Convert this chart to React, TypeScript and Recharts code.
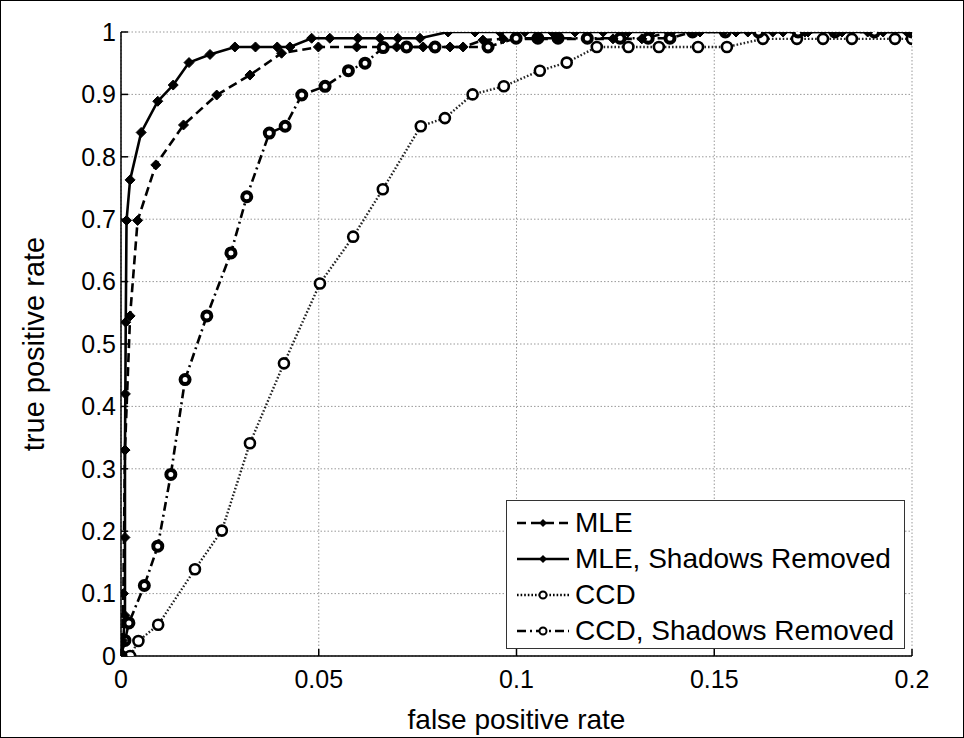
import React from 'react';
import { LineChart, Line, XAxis, YAxis, CartesianGrid, Legend } from 'recharts';

// MLE (dashed, diamonds)
const mleX = [0, 0.0003, 0.0006, 0.001, 0.0023, 0.0042, 0.0088, 0.0158, 0.0242, 0.0326, 0.0406, 0.0499, 0.0596, 0.0697, 0.0764, 0.0832, 0.0865, 0.0915, 0.0966, 0.1054, 0.1105, 0.1244, 0.1317, 0.1392, 0.1464, 0.1555, 0.1674, 0.1737, 0.1823, 0.1927, 0.1995];
const mleY = [0, 0.025, 0.1, 0.33, 0.545, 0.698, 0.787, 0.851, 0.899, 0.931, 0.966, 0.976, 0.976, 0.976, 0.976, 0.976, 0.976, 0.987, 0.989, 0.989, 0.989, 0.989, 0.989, 1, 1, 1, 1, 1, 1, 1, 1];

// MLE, Shadows Removed (solid, diamonds)
const mleSrX = [0, 0.0005, 0.001, 0.001, 0.001, 0.0011, 0.0012, 0.0014, 0.0023, 0.0051, 0.0093, 0.0132, 0.0172, 0.0225, 0.0288, 0.034, 0.0395, 0.0427, 0.0482, 0.0528, 0.0599, 0.0655, 0.07, 0.0756, 0.0827, 0.0895, 0.0958, 0.1021, 0.109, 0.1148, 0.1219, 0.1282, 0.134, 0.1443, 0.1522, 0.1585, 0.1648, 0.1729, 0.18, 0.1888, 0.1987];
const mleSrY = [0, 0.02, 0.065, 0.19, 0.33, 0.42, 0.535, 0.698, 0.763, 0.839, 0.889, 0.915, 0.951, 0.964, 0.976, 0.976, 0.976, 0.976, 0.99, 0.99, 0.99, 0.99, 0.99, 0.99, 1, 1, 1, 1, 1, 1, 1, 1, 1, 1, 1, 1, 1, 1, 1, 1, 1];

// CCD (dotted, open circles)
const ccdX = [0, 0.0023, 0.0044, 0.0094, 0.0187, 0.0255, 0.0326, 0.0412, 0.0503, 0.0587, 0.0662, 0.0758, 0.0819, 0.0889, 0.0968, 0.1059, 0.1127, 0.1203, 0.1283, 0.136, 0.1459, 0.1532, 0.1623, 0.1709, 0.1775, 0.1848, 0.1957, 0.2];
const ccdY = [0, 0, 0.024, 0.05, 0.139, 0.201, 0.341, 0.469, 0.597, 0.672, 0.748, 0.849, 0.862, 0.9, 0.913, 0.938, 0.951, 0.976, 0.976, 0.976, 0.976, 0.976, 0.989, 0.989, 0.989, 0.989, 0.989, 0.989];

// CCD, Shadows Removed (dash-dot, circles)
const ccdSrX = [0, 0.001, 0.002, 0.0059, 0.0093, 0.0126, 0.0162, 0.0217, 0.0278, 0.0318, 0.0375, 0.0415, 0.0457, 0.0516, 0.0575, 0.0617, 0.0663, 0.0722, 0.0794, 0.0928, 0.0999, 0.1054, 0.1105, 0.1179, 0.1262, 0.1333, 0.1388, 0.1445, 0.1528, 0.1612, 0.1712, 0.1805, 0.1905, 0.2];
const ccdSrY = [0, 0.025, 0.053, 0.113, 0.176, 0.291, 0.443, 0.545, 0.646, 0.736, 0.838, 0.849, 0.899, 0.913, 0.938, 0.95, 0.975, 0.976, 0.976, 0.976, 0.99, 0.99, 0.99, 0.99, 0.99, 0.99, 0.99, 1, 1, 1, 1, 1, 1, 1];

const xTicks = [0, 0.05, 0.1, 0.15, 0.2];
const yTicks = [0, 0.1, 0.2, 0.3, 0.4, 0.5, 0.6, 0.7, 0.8, 0.9, 1];
const seriesNames = ['MLE', 'MLE, Shadows Removed', 'CCD', 'CCD, Shadows Removed'];

const font = '"Liberation Sans", Arial, sans-serif';

const toPoints = (xs: number[], ys: number[]) => xs.map((x, i) => ({ x, y: ys[i] }));

const diamond = (s: number) => (props: any) => {
  const { cx, cy, index } = props;
  if (cx == null || cy == null) return <g key={index} />;
  return (
    <path
      key={index}
      d={`M${cx},${cy - s}L${cx + s},${cy}L${cx},${cy + s}L${cx - s},${cy}Z`}
      fill="#000"
      stroke="#000"
      strokeWidth={1}
    />
  );
};

const ring = (r: number, w: number) => (props: any) => {
  const { cx, cy, index } = props;
  if (cx == null || cy == null) return <g key={index} />;
  return <circle key={index} cx={cx} cy={cy} r={r} fill="#fff" stroke="#000" strokeWidth={w} />;
};

const styles = [
  { dash: '9 5', width: 2.6, marker: 'diamond' },
  { dash: undefined, width: 2.6, marker: 'diamond' },
  { dash: '1.6 2', width: 2.4, marker: 'ring' },
  { dash: '9 4 2 4', width: 2.6, marker: 'ringThick' },
];

function LegendBox() {
  return (
    <div
      style={{
        width: 399,
        height: 149,
        boxSizing: 'border-box',
        border: '1px solid #333',
        background: '#fff',
        paddingTop: 4,
        fontFamily: font,
        fontSize: 28,
        color: '#000',
      }}
    >
      {seriesNames.map((name, i) => {
        const st = styles[i];
        return (
          <div key={name} style={{ height: 36, display: 'flex', alignItems: 'center' }}>
            <svg width={66} height={36} style={{ flex: 'none' }}>
              <line x1={10} x2={62} y1={18} y2={18} stroke="#000" strokeWidth={st.width} strokeDasharray={st.dash} />
              {st.marker === 'diamond' && <path d="M36,14L40,18L36,22L32,18Z" fill="#000" />}
              {st.marker === 'ring' && <circle cx={36} cy={18} r={3.5} fill="#fff" stroke="#000" strokeWidth={2} />}
              {st.marker === 'ringThick' && <circle cx={36} cy={18} r={3.5} fill="#fff" stroke="#000" strokeWidth={2} />}
            </svg>
            <span style={{ marginLeft: 2, whiteSpace: 'nowrap' }}>{name}</span>
          </div>
        );
      })}
    </div>
  );
}

export default function App() {
  const tickStyle = { fill: '#000', fontSize: 25, fontFamily: font };
  return (
    <div style={{ position: 'absolute', left: 0, top: 0, width: 964, height: 738, background: '#fff' }}>
      <LineChart width={964} height={738} margin={{ top: 32, right: 52, left: 0, bottom: 0 }}>
        <CartesianGrid stroke="#999" strokeDasharray="1.5 2" strokeWidth={1} />
        <XAxis
          dataKey="x"
          type="number"
          domain={[0, 0.2]}
          ticks={xTicks}
          interval={0}
          allowDataOverflow
          height={82}
          tickSize={-7}
          tickMargin={21}
          tick={tickStyle}
          axisLine={{ stroke: '#000', strokeWidth: 1.5 }}
          tickLine={{ stroke: '#000', strokeWidth: 1.5 }}
          tickFormatter={(v) => String(v)}
          label={{ value: 'false positive rate', position: 'insideBottom', offset: 9, fill: '#000', fontSize: 28, fontFamily: font }}
        />
        <XAxis
          xAxisId="top"
          orientation="top"
          dataKey="x"
          type="number"
          domain={[0, 0.2]}
          ticks={xTicks}
          interval={0}
          allowDataOverflow
          height={0}
          tickSize={-7}
          axisLine={{ stroke: '#000', strokeWidth: 1.5 }}
          tickLine={{ stroke: '#000', strokeWidth: 1.5 }}
          tickFormatter={() => ''}
        />
        <YAxis
          type="number"
          domain={[0, 1]}
          ticks={yTicks}
          interval={0}
          allowDataOverflow
          width={121}
          tickSize={-7}
          tickMargin={12}
          tick={tickStyle}
          axisLine={{ stroke: '#000', strokeWidth: 1.5 }}
          tickLine={{ stroke: '#000', strokeWidth: 1.5 }}
          tickFormatter={(v) => String(v)}
          label={{ value: 'true positive rate', angle: -90, position: 'insideLeft', offset: 34, fill: '#000', fontSize: 29, fontFamily: font, style: { textAnchor: 'middle' } }}
        />
        <YAxis
          yAxisId="right"
          orientation="right"
          type="number"
          domain={[0, 1]}
          ticks={yTicks}
          interval={0}
          allowDataOverflow
          width={0}
          tickSize={-7}
          axisLine={{ stroke: '#000', strokeWidth: 1.5 }}
          tickLine={{ stroke: '#000', strokeWidth: 1.5 }}
          tickFormatter={() => ''}
        />
        <Legend
          layout="vertical"
          align="center"
          verticalAlign="middle"
          content={() => <LegendBox />}
          wrapperStyle={{ left: 506, top: 500, width: 399, height: 149 }}
        />
        <Line data={toPoints(ccdX, ccdY)} dataKey="y" name={seriesNames[2]} type="linear" stroke="#222" strokeWidth={2.4} strokeDasharray="1.6 2" dot={ring(5, 2.6)} isAnimationActive={false} />
        <Line data={toPoints(ccdSrX, ccdSrY)} dataKey="y" name={seriesNames[3]} type="linear" stroke="#000" strokeWidth={2.6} strokeDasharray="9 4 2 4" dot={ring(4.5, 4)} isAnimationActive={false} />
        <Line data={toPoints(mleX, mleY)} dataKey="y" name={seriesNames[0]} type="linear" stroke="#000" strokeWidth={2.6} strokeDasharray="9 5" dot={diamond(5)} isAnimationActive={false} />
        <Line data={toPoints(mleSrX, mleSrY)} dataKey="y" name={seriesNames[1]} type="linear" stroke="#000" strokeWidth={2.6} dot={diamond(5)} isAnimationActive={false} />
      </LineChart>
      <div style={{ position: 'absolute', left: 0, top: 0, width: 964, height: 738, boxSizing: 'border-box', border: '1px solid #000', pointerEvents: 'none' }} />
    </div>
  );
}
